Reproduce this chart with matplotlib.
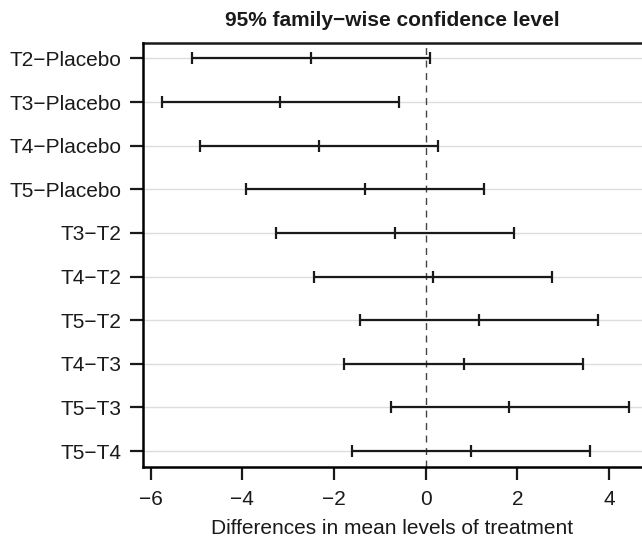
import matplotlib.pyplot as plt

plt.rcParams['font.family'] = ['Liberation Sans', 'DejaVu Sans']

comparisons = ['T2\u2212Placebo', 'T3\u2212Placebo', 'T4\u2212Placebo', 'T5\u2212Placebo',
               'T3\u2212T2', 'T4\u2212T2', 'T5\u2212T2', 'T4\u2212T3', 'T5\u2212T3', 'T5\u2212T4']
diff = [-2.50, -3.17, -2.32, -1.33, -0.67, 0.17, 1.17, 0.83, 1.83, 1.00]
lower = [-5.09, -5.76, -4.93, -3.92, -3.26, -2.43, -1.42, -1.77, -0.76, -1.61]
upper = [0.10, -0.57, 0.26, 1.27, 1.93, 2.76, 3.77, 3.43, 4.43, 3.59]
xticks = [-6, -4, -2, 0, 2, 4]

n = len(comparisons)
ypos = list(range(n, 0, -1))
ink = '#1a1a1a'

fig = plt.figure(figsize=(6.42, 5.38), dpi=100)
ax = fig.add_axes([0.2223, 0.1325, 0.7777, 0.7881])

# light grid at each comparison
for y in ypos:
    ax.axhline(y, color='#dddddd', lw=1, zorder=0)

ax.axvline(0, color='#444444', lw=1, ls=(0, (5, 4)), zorder=1)

ax.hlines(ypos, lower, upper, color=ink, lw=1.6, zorder=2)
for vals in (lower, diff, upper):
    ax.plot(vals, ypos, ls='none', marker='|', ms=9, mew=1.6, color=ink, zorder=3)

ax.set_xlim(-6.17, 4.72)
ax.set_ylim(0.64, 10.36)
ax.set_xticks(xticks)
ax.set_xticklabels([str(t).replace('-', '\u2212') for t in xticks])
ax.set_yticks(ypos)
ax.set_yticklabels(comparisons)

for s in ['top', 'right']:
    ax.spines[s].set_visible(False)
ax.plot([0, 1], [1, 1], transform=ax.transAxes, color=ink, lw=1.8, clip_on=False)
ax.spines['left'].set_linewidth(1.8)
ax.spines['bottom'].set_linewidth(1.8)
ax.tick_params(axis='both', length=9.7, width=1.6, labelsize=15, colors=ink)
ax.tick_params(axis='y', pad=5.5)
ax.tick_params(axis='x', pad=7)

fig.text(0.611, (538 - 528) / 538, 'Differences in mean levels of treatment',
         fontsize=15, ha='center', va='center', color=ink)
fig.text(0.6111, (538 - 20) / 538, '95% family\u2212wise confidence level',
         fontsize=15, fontweight='bold', ha='center', va='center', color=ink)

fig.savefig('out.png', dpi=100)
